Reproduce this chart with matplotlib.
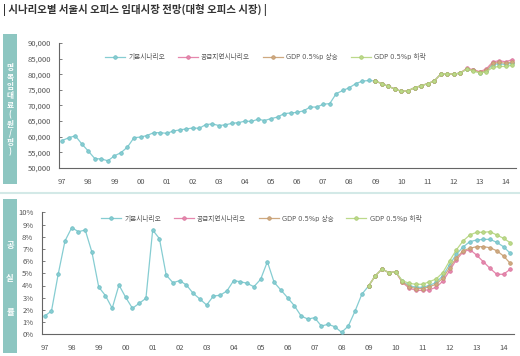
import matplotlib
matplotlib.use('Agg')
import matplotlib.pyplot as plt
from matplotlib.patches import Rectangle
from matplotlib.lines import Line2D

plt.rcParams['font.family'] = ['Noto Sans CJK KR', 'DejaVu Sans']

# quarterly, 97Q1 .. 14Q2
year_labels = ['97', '98', '99', '00', '01', '02', '03', '04', '05', '06', '07',
               '08', '09', '10', '11', '12', '13', '14']
scenario_names = ['기본시나리오', '공급지연시나리오', 'GDP 0.5%p 상승', 'GDP 0.5%p 하락']

# rent (원/평), history 97Q1..09Q1
rent_hist = [58800, 59700, 60300, 57700, 55400, 53000, 52900, 52300, 53900, 54900,
             56700, 59700, 59900, 60400, 61300, 61300, 61100, 61800, 62200, 62500,
             62800, 62700, 63900, 64100, 63600, 63800, 64300, 64500, 65000, 64900,
             65600, 65200, 65800, 66300, 67400, 67600, 67800, 68300, 69500, 69500,
             70400, 70600, 73800, 74800, 75700, 77000, 77800, 78000, 77800]
# rent forecasts 09Q1..14Q2
rent_common = [77800, 77000, 76100, 75300, 74500, 74700, 75700, 76300, 77000, 77800,
               80000, 80200, 80000, 80400]
rent_base = rent_common + [81600, 81200, 80500, 81000, 83100, 83400, 83100, 83600]
rent_delay = rent_common + [81900, 81500, 80800, 81700, 84000, 84300, 84000, 84700]
rent_gdp_up = rent_common + [81700, 81300, 80600, 81200, 83500, 83800, 83500, 84000]
rent_gdp_down = rent_common + [81600, 81100, 80400, 80800, 82200, 82500, 82500, 82900]

# vacancy (%), history 97Q1..09Q1
vac_hist = [1.50, 1.91, 4.94, 7.65, 8.74, 8.41, 8.55, 6.72, 3.88, 3.17,
            2.13, 4.04, 3.03, 2.13, 2.54, 2.95, 8.55, 7.84, 4.86, 4.23,
            4.40, 4.04, 3.36, 2.89, 2.40, 3.14, 3.20, 3.55, 4.40, 4.31,
            4.18, 3.90, 4.51, 5.95, 4.26, 3.63, 3.00, 2.34, 1.50, 1.25,
            1.36, 0.68, 0.82, 0.62, 0.16, 0.68, 1.91, 3.28, 3.96]
vac_common = [3.96, 4.80, 5.35, 5.05, 5.13]
vac_base = vac_common + [4.35, 4.00, 3.85, 3.85, 4.00, 4.25, 4.80, 5.70, 6.55, 7.15,
                         7.59, 7.73, 7.78, 7.78, 7.54, 7.18, 6.64]
vac_delay = vac_common + [4.25, 3.80, 3.60, 3.60, 3.65, 3.85, 4.35, 5.20, 6.10, 6.75,
                          6.95, 6.50, 5.95, 5.41, 4.92, 4.92, 5.33]
vac_gdp_up = vac_common + [4.30, 3.90, 3.75, 3.75, 3.90, 4.10, 4.60, 5.45, 6.25, 6.85,
                           7.05, 7.18, 7.18, 7.10, 6.85, 6.42, 5.82]
vac_gdp_down = vac_common + [4.40, 4.18, 4.10, 4.10, 4.31, 4.53, 5.05, 6.01, 6.91, 7.65,
                             8.14, 8.36, 8.36, 8.41, 8.14, 7.87, 7.51]

colors = ['#86cdd2', '#e687ad', '#cfa980', '#bcd98a']
edge_colors = ['#6cbcc2', '#d8709a', '#bf9669', '#a7ca6e']
side_color = '#8dc6c1'
text_gray = '#555555'
legend_font = {'family': ['DejaVu Sans', 'Noto Sans CJK KR'], 'size': 4.8}


def draw_panel(ax, hist, forecasts, ylim, yticks, ytick_labels):
    n_hist = len(hist)
    x_hist = list(range(n_hist))
    x_fc = list(range(n_hist - 1, n_hist - 1 + len(forecasts[0])))
    handles = []
    h, = ax.plot(x_hist, hist, color=colors[0], lw=0.9, marker='o', ms=2.6,
                 mfc=colors[0], mec=edge_colors[0], mew=0.5, zorder=3)
    handles.append(h)
    for i, fc in enumerate(forecasts):
        h, = ax.plot(x_fc, fc, color=colors[i], lw=0.9, marker='o', ms=2.6,
                     mfc=colors[i], mec=edge_colors[i], mew=0.5, zorder=3 + i)
        if i > 0:
            handles.append(h)
    ax.set_xlim(-0.45, 69.6)
    ax.set_ylim(*ylim)
    ax.set_yticks(yticks)
    ax.set_yticklabels(ytick_labels)
    ax.set_xticks([4 * i for i in range(len(year_labels))])
    ax.set_xticklabels(year_labels)
    for s in ['top', 'right']:
        ax.spines[s].set_visible(False)
    for s in ['left', 'bottom']:
        ax.spines[s].set_color('#666666')
        ax.spines[s].set_linewidth(0.8)
    ax.tick_params(axis='y', direction='in', length=2, width=0.6, color='#666666',
                   labelsize=5.5, labelcolor=text_gray, pad=6)
    ax.tick_params(axis='x', length=0, labelsize=5.5, labelcolor=text_gray, pad=7)
    return handles


fig = plt.figure(figsize=(5.2, 3.56), dpi=100)

fig.text(0.006, 0.972, '| 시나리오별 서울시 오피스 임대시장 전망(대형 오피스 시장) |',
         fontsize=7.5, color='#333333', fontweight='bold', va='center', ha='left')

# side labels
fig.add_artist(Rectangle((3 / 520, 1 - 184 / 356), 14 / 520, 150 / 356,
                         transform=fig.transFigure, color=side_color, lw=0))
fig.add_artist(Rectangle((3 / 520, 1 - 353 / 356), 14 / 520, 154 / 356,
                         transform=fig.transFigure, color=side_color, lw=0))
fig.add_artist(Line2D([0, 1], [1 - 193 / 356] * 2, transform=fig.transFigure,
                      color='#d3e9e7', lw=1.5))
fig.text(10 / 520, 1 - 110 / 356, '\n'.join('명목임대료(원/평)'), fontsize=5.5,
         color='white', fontweight='bold', ha='center', va='center', linespacing=1.05)
fig.text(10 / 520, 1 - 279 / 356, '공\n\n\n실\n\n\n률', fontsize=6,
         color='white', fontweight='bold', ha='center', va='center', linespacing=1.3)

# rent panel
ax1 = fig.add_axes([59.3 / 520, 1 - 168 / 356, 457 / 520, 125 / 356])
rent_ticks = list(range(50000, 90001, 5000))
h1 = draw_panel(ax1, rent_hist, [rent_base, rent_delay, rent_gdp_up, rent_gdp_down],
                (50000, 90000), rent_ticks, [f'{v:,}' for v in rent_ticks])
ax1.legend(h1, scenario_names, loc='center left', bbox_to_anchor=(0.1, 0.888),
           ncol=4, frameon=False, prop=legend_font, handlelength=3.0, handletextpad=0.5,
           columnspacing=1.9, borderpad=0, borderaxespad=0, labelcolor=text_gray)

# vacancy panel
ax2 = fig.add_axes([41.7 / 520, 1 - 334.3 / 356, 472.6 / 520, 122 / 356])
vac_ticks = list(range(0, 11))
h2 = draw_panel(ax2, vac_hist, [vac_base, vac_delay, vac_gdp_up, vac_gdp_down],
                (0, 10), vac_ticks, [f'{v}%' for v in vac_ticks])
ax2.legend(h2, scenario_names, loc='center left', bbox_to_anchor=(0.125, 0.953),
           ncol=4, frameon=False, prop=legend_font, handlelength=3.0, handletextpad=0.5,
           columnspacing=1.9, borderpad=0, borderaxespad=0, labelcolor=text_gray)

fig.savefig('out.png', dpi=100)
